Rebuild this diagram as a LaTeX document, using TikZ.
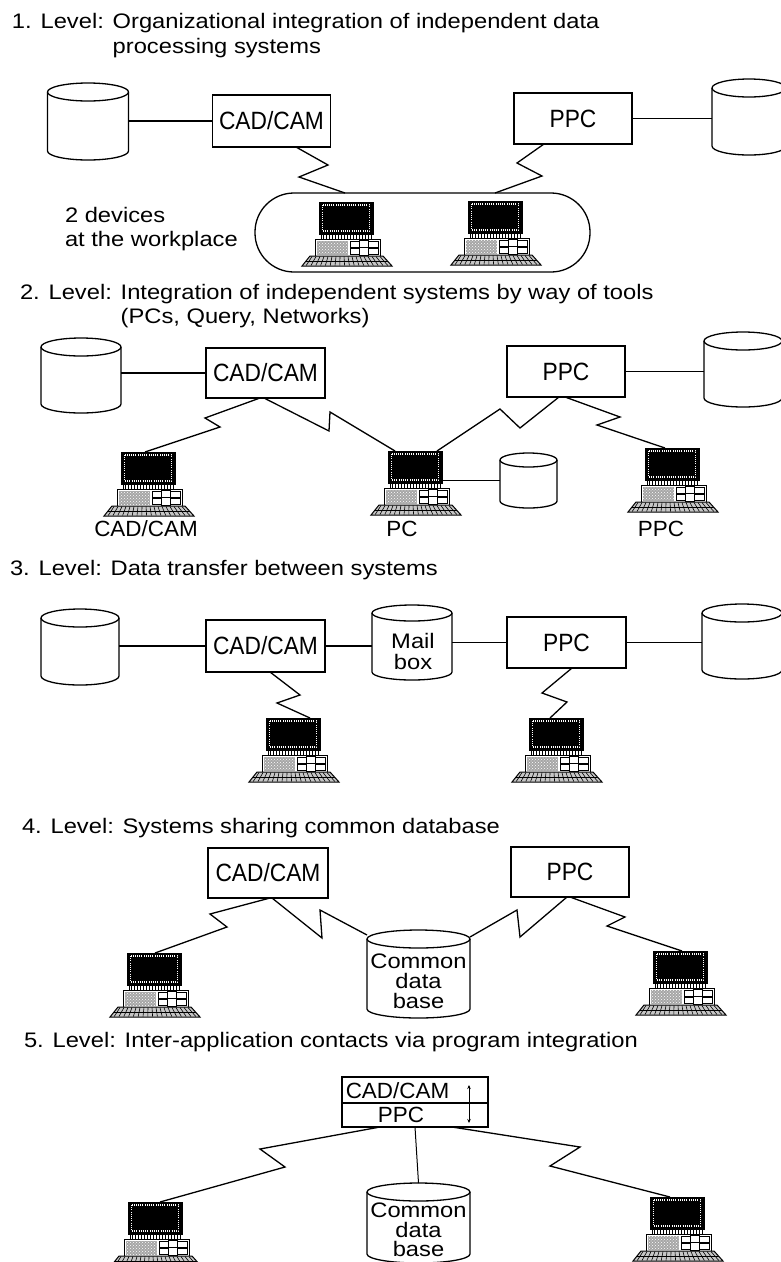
\documentclass[tikz,border=0pt]{standalone}
\usepackage{fontspec}
\setmainfont{Liberation Sans}
\newfontfamily\ttlfam{Liberation Sans}[FakeStretch=1.13]
\newfontfamily\boxfam{Liberation Sans}[FakeStretch=0.91]
\newfontfamily\midfam{Liberation Sans}[FakeStretch=1.02]
\usetikzlibrary{calc,patterns,arrows.meta}

\newcommand{\lblfont}{\ttlfam\fontsize{21}{24}\selectfont}
\newcommand{\boxfont}{\boxfam\fontsize{25}{27}\selectfont}
\newcommand{\midfont}{\midfam\fontsize{22}{24}\selectfont}

% database drum: name, centre, width, height, radius of the end ellipses
\newcommand{\drum}[5]{%
  \node[drumbody, minimum width=#3, minimum height=#4] (#1) at (#2) {};
  \draw[cyl] ([yshift=-#5pt]#1.north west) -- ([yshift=#5pt]#1.south west)
    arc[start angle=180, end angle=360, x radius={#3/2*1pt}, y radius=#5pt]
    -- ([yshift=-#5pt]#1.north east);
  \draw[cyl, fill=white] ([yshift=-#5pt]#1.north) ellipse[x radius={#3/2*1pt}, y radius=#5pt];
}

\tikzset{
  every node/.style={inner sep=0pt, outer sep=0pt},
  sysbox/.style={draw, line width=1.3pt, fill=white, font=\boxfont},
  drumbody/.style={inner sep=0pt, outer sep=0pt},
  cyl/.style={line width=1.3pt},
  link/.style={line width=1.3pt, line join=miter},
  txt/.style={font=\lblfont, anchor=base west},
  ctxt/.style={font=\midfont, anchor=base},
  pics/pc/.style={code={
    % monitor with dotted bezel
    \node[draw=black, line width=1pt, fill=black, minimum width=54pt, minimum height=32pt] (-mon) at (0,16) {};
    \draw[white, line width=1.1pt, dash pattern=on 0.9pt off 1.3pt] (-23.5,3) rectangle (23.5,29);
    % ribbed stand under the screen
    \draw[line width=0.9pt, fill=white] (-25,32) rectangle (25,37);
    \foreach \i in {-23,-20,...,23} \draw[line width=0.7pt] (\i,32.5) -- (\i,36.5);
    % system unit
    \draw[line width=1pt, fill=white] (-31,37) rectangle (34,54);
    \fill[gray!70] (-29.5,38.5) rectangle (2,52.5);
    \fill[pattern=crosshatch dots, pattern color=white] (-29.5,38.5) rectangle (2,52.5);
    \draw[line width=0.7pt] (4,39.5) rectangle (32,45);
    \draw[line width=0.7pt] (4,46.5) rectangle (32,52);
    \draw[line width=0.8pt, fill=white] (13,38.5) rectangle (22,53);
    \draw[line width=0.6pt] (13,45.7) -- (22,45.7);
    % keyboard
    \draw[line width=1pt, fill=gray!45] (-36,54) -- (37,54) -- (46,64) -- (-44,64) -- cycle;
    \foreach \i in {-34,-30,...,34} \draw[line width=0.6pt] (\i,54.5) -- ({\i*1.2+1},63.5);
    \draw[line width=0.6pt] (-40,59) -- (42,59);
  }},
}

\begin{document}
\begin{tikzpicture}[x=1pt, y=-1pt]
\fill[white] (0,0) rectangle (781,1262);
\useasboundingbox (0,0) rectangle (781,1262);

% ---------------- 1. Level ----------------
\node[txt] (t1a) at (12,28) {1. Level: Organizational integration of independent data};
\node[txt] (t1b) at (12,53) {\hphantom{1. Level: }processing systems};

\drum{cylL1}{88,121.5}{81}{77}{9}
\node[sysbox, minimum width=118, minimum height=52] (cad1) at (271.5,121) {CAD/CAM};
\node[sysbox, minimum width=118, minimum height=51] (ppc1) at (573,118.5) {PPC};
\drum{cylR1}{749,117}{74}{76}{9}
\draw[link] (cad1.west) -- (cad1.west -| cylL1.east);
\draw[link] (ppc1.east) -- (ppc1.east -| cylR1.west);

\node[draw, line width=1.3pt, rounded corners=39pt, minimum width=335, minimum height=79] (oval1) at (422.5,232.5) {};
\pic (pc1a) at (346,202) {pc};
\pic (pc1b) at (495,201) {pc};
\node[txt] (dev1) at (65,222) {2 devices};
\node[txt] (dev2) at (65,246) {at the workplace};

\draw[link] ([xshift=24.5pt]cad1.south) -- (328,165) -- (299,177) -- ([xshift=-77.5pt]oval1.north);
\draw[link] ([xshift=-29pt]ppc1.south) -- (517,163) -- (542,176) -- ([xshift=72.5pt]oval1.north);

% ---------------- 2. Level ----------------
\node[txt] (t2a) at (20,299) {2. Level: Integration of independent systems by way of tools};
\node[txt] (t2b) at (20,323) {\hphantom{2. Level: }(PCs, Query, Networks)};

\drum{cylL2}{81,375.5}{80}{75}{9}
\node[sysbox, minimum width=119, minimum height=50] (cad2) at (265.5,373) {CAD/CAM};
\node[sysbox, minimum width=118, minimum height=51] (ppc2) at (566,371.5) {PPC};
\drum{cylR2}{743,369.5}{78}{75}{9}
\draw[link] (cad2.west) -- (cad2.west -| cylL2.east);
\draw[link] (ppc2.east) -- (ppc2.east -| cylR2.west);

\pic (pc2a) at (148,452) {pc};
\pic (pc2b) at (415,451) {pc};
\pic (pc2c) at (672,448) {pc};
\drum{cylS2}{528.5,480.5}{57}{55}{7}
\draw[link] (cylS2.west) -- (cylS2.west -| pc2b-mon.east);

\node[ctxt] (l2a) at (146,536) {CAD/CAM};
\node[ctxt] (l2b) at (402,536) {PC};
\node[ctxt] (l2c) at (661,536) {PPC};

\draw[link] ([xshift=-5.5pt]cad2.south) -- (205,418) -- (220,427) -- ([xshift=-3pt]pc2a-mon.north);
\draw[link] ([xshift=-1.5pt]cad2.south) -- (329,431) -- (330,412) -- ([xshift=-20pt]pc2b-mon.north);
\draw[link] ([xshift=22pt]pc2b-mon.north) -- (500,409) -- (520,428) -- ([xshift=-7pt]ppc2.south);
\draw[link] ([xshift=-1pt]ppc2.south) -- (620,417) -- (597,425) -- ([xshift=-7pt]pc2c-mon.north);

% ---------------- 3. Level ----------------
\node[txt] (t3) at (10,575) {3. Level: Data transfer between systems};

\drum{cylL3}{80,647}{78}{76}{9}
\node[sysbox, minimum width=119, minimum height=52] (cad3) at (265.5,646) {CAD/CAM};
\drum{mail3}{412,642.5}{80}{75}{8}
\node[font=\ttlfam\fontsize{21}{21}\selectfont, align=center] (mailtxt) at (413,651) {Mail\\box};
\node[sysbox, minimum width=119, minimum height=51] (ppc3) at (566.5,642.5) {PPC};
\drum{cylR3}{742,641.5}{80}{75}{9}
\draw[link] (cad3.west) -- (cad3.west -| cylL3.east);
\draw[link] (cad3.east) -- (cad3.east -| mail3.west);
\draw[link] (ppc3.west) -- (ppc3.west -| mail3.east);
\draw[link] (ppc3.east) -- (ppc3.east -| cylR3.west);

\pic (pc3a) at (293,718) {pc};
\pic (pc3b) at (556,718) {pc};
\draw[link] ([xshift=4.5pt]cad3.south) -- (300,695) -- (277,703) -- ([xshift=17pt]pc3a-mon.north);
\draw[link] ([xshift=5.5pt]ppc3.south) -- (542,693) -- (567,702) -- ([xshift=-6pt]pc3b-mon.north);

% ---------------- 4. Level ----------------
\node[txt] (t4) at (22,833) {4. Level: Systems sharing common database};

\node[sysbox, minimum width=120, minimum height=50] (cad4) at (268,873) {CAD/CAM};
\node[sysbox, minimum width=118, minimum height=50] (ppc4) at (570,872) {PPC};
\drum{db4}{418.5,974}{103}{88}{9}
\node[font=\ttlfam\fontsize{21}{20}\selectfont, align=center] (db4txt) at (418.5,981) {Common\\data\\base};

\pic (pc4a) at (154,953) {pc};
\pic (pc4b) at (680,951) {pc};
\draw[link] ([xshift=2pt]cad4.south) -- (210,914) -- (227,927) -- ([xshift=1pt]pc4a-mon.north);
\draw[link] ([xshift=4pt]cad4.south) -- (322,938) -- (320,910) -- ([yshift=-5pt]db4.north west);
\draw[link] ([yshift=-7pt]db4.north east) -- (517,910) -- (520,937) -- ([xshift=-3pt]ppc4.south);
\draw[link] (ppc4.south) -- (625,917) -- (607,926) -- ([xshift=2pt]pc4b-mon.north);

% ---------------- 5. Level ----------------
\node[txt] (t5) at (24,1047) {5. Level: Inter-application contacts via program integration};

\node[draw, line width=1.3pt, minimum width=146, minimum height=26] (box5a) at (415,1090) {};
\node[draw, line width=1.3pt, minimum width=146, minimum height=24] (box5b) at (415,1115) {};
\node[ctxt] (cadtxt5) at (397.5,1098) {CAD/CAM};
\node[ctxt] (ppctxt5) at (401,1122.5) {PPC};
\draw[line width=0.7pt, {Stealth[length=4pt,width=3.5pt]}-{Stealth[length=4pt,width=3.5pt]}]
  ([xshift=-19pt,yshift=-8pt]box5a.north east) -- ([xshift=-19pt,yshift=4pt]box5b.south east);

\drum{db5}{418.5,1223}{103}{80}{9}
\node[font=\ttlfam\fontsize{21}{19.5}\selectfont, align=center] (db5txt) at (418.5,1230) {Common\\data\\base};
\draw[line width=1pt] (box5b.south) -- (db5.north);

\pic (pc5a) at (155,1202) {pc};
\pic (pc5b) at (677,1197) {pc};
\draw[link] ([xshift=-35pt]box5b.south) -- (260,1149) -- (285,1167) -- ([xshift=5pt]pc5a-mon.north);
\draw[link] ([xshift=37pt]box5b.south) -- (580,1147) -- (550,1166) -- ([xshift=-7pt]pc5b-mon.north);
\end{tikzpicture}
\end{document}
